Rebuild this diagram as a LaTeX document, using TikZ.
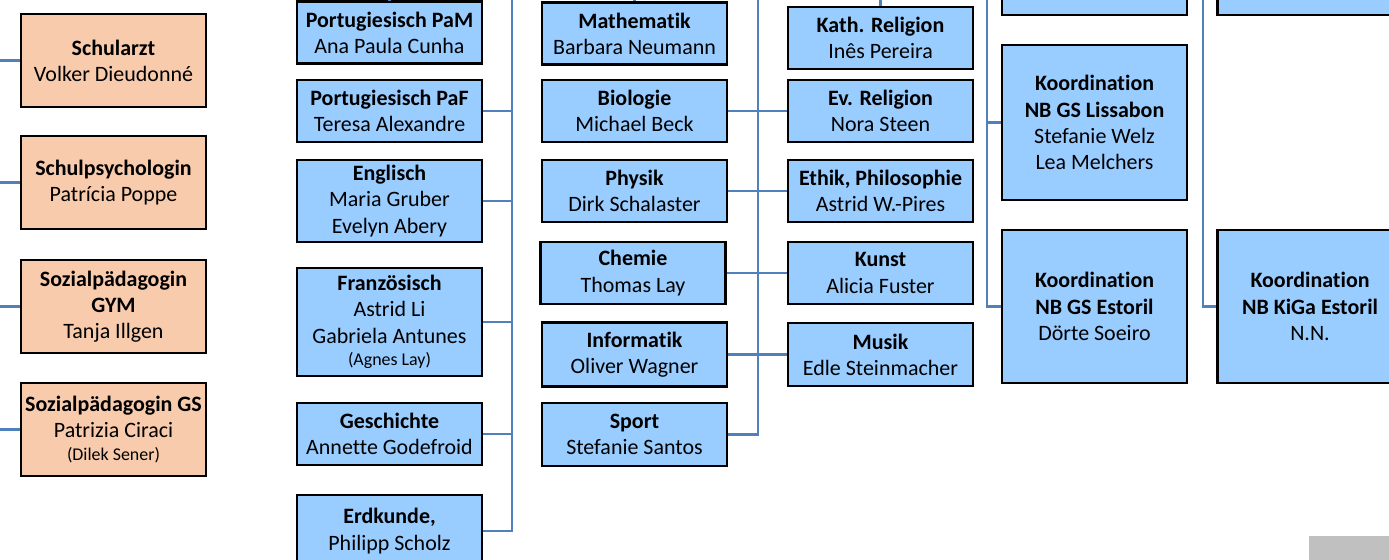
\documentclass[tikz,border=0pt]{standalone}
\usepackage{fontspec}
\setmainfont{Carlito}[Ligatures=NoCommon]
\usepackage{tikz}
\usetikzlibrary{calc}
\definecolor{stabfarbe}{HTML}{F8CBAD}
\definecolor{fachfarbe}{HTML}{99CCFF}
\definecolor{linienfarbe}{HTML}{4F81BD}
\definecolor{eckgrau}{HTML}{C0C0C0}
\tikzset{
  box/.style={draw=black, line width=1.3pt, inner sep=0pt, align=center,
    minimum width=3.7cm, font=\fontsize{12.5}{14.9}\selectfont},
  fach/.style={box, fill=fachfarbe},
  stab/.style={box, fill=stabfarbe, minimum height=1.86cm},
  verbind/.style={draw=linienfarbe, line width=1.4pt}
}
\newcommand{\klein}[1]{{\fontsize{10.2}{12}\selectfont #1}}
\newcommand{\fachbox}[5]{ \node[fach, minimum height=#4*0.02cm] (#1) at ( #2 , #3 ) {#5};}
\newcommand{\stabbox}[4]{ \node[stab] (#1) at ( #2 , #3 ) {#4};}

\begin{document}
\begin{tikzpicture}[x=0.02cm, y=-0.02cm]
        \useasboundingbox (0,0) rectangle (1389,560);
        \clip (0,0) rectangle (1389,560);

        % stab
        \stabbox{arzt}{113.5}{60.5}{\textbf{Schularzt}\\Volker Dieudonné}
        \stabbox{psych}{113.5}{182.5}{\textbf{Schulpsychologin}\\Patrícia Poppe}
        \stabbox{sozgym}{113.5}{306.5}{\textbf{Sozialpädagogin}\\\textbf{GYM}\\Tanja Illgen}
        \stabbox{sozgs}{113.5}{429.5}{\textbf{Sozialpädagogin GS}\\Patrizia Ciraci\\[-1.5pt]\klein{(Dilek Sener)}}

        % col 2
        \fachbox{pam}{389.5}{32.5}{62}{\textbf{Portugiesisch PaM}\\Ana Paula Cunha}
        \fachbox{paf}{389.5}{111}{62}{\textbf{Portugiesisch PaF}\\Teresa Alexandre}
        \fachbox{englisch}{389.5}{201}{82}{\textbf{Englisch}\\Maria Gruber\\Evelyn Abery}
        \fachbox{franz}{389.5}{322}{108}{\textbf{Französisch}\\Astrid Li\\Gabriela Antunes\\[-2pt]\klein{(Agnes Lay)}}
        \fachbox{gesch}{389.5}{434}{62}{\textbf{Geschichte}\\Annette Godefroid}
        \fachbox{erdk}{389.5}{531}{72}{\textbf{Erdkunde,}\\Philipp Scholz}

        % col 3
        \fachbox{mathe}{634.5}{33.5}{62}{\textbf{Mathematik}\\Barbara Neumann}
        \fachbox{bio}{634.5}{111}{62}{\textbf{Biologie}\\Michael Beck}
        \fachbox{physik}{634.5}{191}{62}{\textbf{Physik}\\Dirk Schalaster}
        \fachbox{chemie}{633}{273}{62}{\textbf{Chemie}\\Thomas Lay}
        \fachbox{info}{634.5}{354.5}{64}{\textbf{Informatik}\\Oliver Wagner}
        \fachbox{sport}{634.5}{434.5}{63}{\textbf{Sport}\\Stefanie Santos}

        % col 4
        \fachbox{kath}{880.5}{38}{62}{\textbf{Kath. Religion}\\Inês Pereira}
        \fachbox{ev}{880.5}{111}{62}{\textbf{Ev. Religion}\\Nora Steen}
        \fachbox{ethik}{880.5}{191}{62}{\textbf{Ethik, Philosophie}\\Astrid W.-Pires}
        \fachbox{kunst}{880.5}{273}{62}{\textbf{Kunst}\\Alicia Fuster}
        \fachbox{musik}{880.5}{354.5}{63}{\textbf{Musik}\\Edle Steinmacher}

        % col 5
        \fachbox{obenfuenf}{1094.5}{-40}{110}{}
        \fachbox{lissabon}{1094.5}{122.5}{155}{\textbf{Koordination}\\\textbf{NB GS Lissabon}\\Stefanie Welz\\Lea Melchers}
        \fachbox{gsestoril}{1094.5}{306.5}{153}{\textbf{Koordination}\\\textbf{NB GS Estoril}\\Dörte Soeiro}

        % col 6
        \fachbox{obensechs}{1310}{-40}{110}{}
        \fachbox{kiga}{1310}{306.5}{153}{\textbf{Koordination}\\\textbf{NB KiGa Estoril}\\N.N.}

        % linien
        \coordinate (links) at (0,0);
        \coordinate (stamm2) at (512,0);
        \coordinate (stamm3) at (758,0);
        \coordinate (stamm5) at (987,0);
        \coordinate (stamm6) at (1203,0);

        \draw[verbind] (arzt.west) -- (arzt.west -| links);
        \draw[verbind] (psych.west) -- (psych.west -| links);
        \draw[verbind] (sozgym.west) -- (sozgym.west -| links);
        \draw[verbind] (sozgs.west) -- (sozgs.west -| links);

        \draw[verbind] (pam.north) -- (pam.north |- links);
        \draw[verbind] (stamm2) |- (erdk.east);
        \foreach \f in {paf,englisch,franz,gesch}
            \draw[verbind] (\f.east) -- (\f.east -| stamm2);

        \draw[verbind] (mathe.north) -- (mathe.north |- links);
        \draw[verbind] (kath.north) -- (kath.north |- links);
        \draw[verbind] (stamm3) |- (sport.east);
        \draw[verbind] (bio.east) -- (ev.west);
        \draw[verbind] (physik.east) -- (ethik.west);
        \draw[verbind] (chemie.east) -- (kunst.west);
        \draw[verbind] (info.east) -- (musik.west);

        \draw[verbind] (stamm5) |- (gsestoril.west);
        \draw[verbind] (lissabon.west) -- (lissabon.west -| stamm5);
        \draw[verbind] (stamm6) |- (kiga.west);

        % ecke
        \fill[eckgrau] (1309,536) rectangle (1389,560);
\end{tikzpicture}
\end{document}
